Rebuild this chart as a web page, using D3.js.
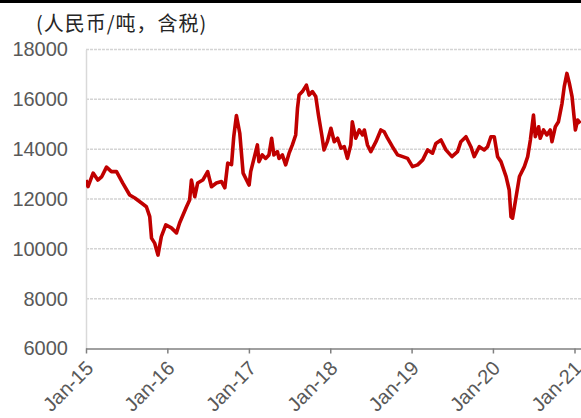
<!DOCTYPE html>
<html>
<head>
<meta charset="utf-8">
<script src="https://cdn.jsdelivr.net/npm/d3@7"></script>
<style>
  html, body { margin: 0; padding: 0; background: #fff; }
  svg { display: block; }
</style>
</head>
<body>
<svg id="chart" width="581" height="418"></svg>
<script>
// Price series (yuan per tonne, tax included)
const dates = [
  "2015-01-01","2015-01-10","2015-02-02","2015-02-23","2015-03-13","2015-04-03","2015-04-25","2015-05-18",
  "2015-06-15","2015-07-16","2015-08-08","2015-09-07","2015-09-29","2015-10-14","2015-10-22","2015-11-05",
  "2015-11-20","2015-12-05","2015-12-25","2016-01-19","2016-02-11","2016-02-25","2016-03-27","2016-04-10",
  "2016-04-18","2016-05-03","2016-05-16","2016-06-08","2016-06-30","2016-07-17","2016-08-08","2016-08-31",
  "2016-09-15","2016-09-28","2016-10-15","2016-10-25","2016-11-06","2016-11-21","2016-12-06","2016-12-28",
  "2017-01-02","2017-01-09","2017-01-24","2017-02-08","2017-02-15","2017-03-02","2017-03-17","2017-04-01",
  "2017-04-13","2017-04-23","2017-05-09","2017-05-16","2017-05-31","2017-06-15","2017-06-30","2017-07-15",
  "2017-07-30","2017-08-07","2017-08-14","2017-08-29","2017-09-16","2017-09-28","2017-10-13","2017-10-28",
  "2017-11-09","2017-11-24","2017-12-04","2017-12-19","2018-01-04","2018-01-19","2018-02-03","2018-02-18",
  "2018-03-05","2018-03-19","2018-04-03","2018-04-10","2018-04-25","2018-05-11","2018-05-26","2018-06-03",
  "2018-06-17","2018-07-02","2018-07-25","2018-08-16","2018-08-31","2018-09-15","2018-10-07","2018-10-30",
  "2018-11-22","2018-12-14","2019-01-05","2019-01-28",
  "2019-02-20","2019-03-14","2019-04-05","2019-04-20","2019-05-13","2019-06-04","2019-07-01","2019-07-26",
  "2019-08-10","2019-09-02","2019-09-24","2019-10-09","2019-11-01","2019-11-23","2019-12-08","2019-12-23",
  "2020-01-07","2020-01-22","2020-02-06","2020-02-29","2020-03-14","2020-03-22","2020-03-29","2020-04-14",
  "2020-04-29","2020-05-21","2020-06-05","2020-06-17","2020-07-01","2020-07-09","2020-07-24","2020-07-31",
  "2020-08-15","2020-08-30","2020-09-14","2020-09-22","2020-10-07","2020-10-21","2020-11-06","2020-11-16",
  "2020-11-28","2020-12-09","2020-12-21","2021-01-05","2021-01-15","2021-01-27"
];
const prices = [
  12760,12500,13040,12760,12900,13280,13100,13100,
  12640,12160,12040,11840,11690,11290,10430,10230,
  9750,10490,10960,10840,10640,11040,11690,11960,
  12760,12090,12640,12760,13100,12490,12640,12700,
  12450,13440,13380,14500,15350,14640,13040,12640,
  12560,13100,13630,14170,13500,13770,13630,13770,
  14440,13770,13900,13630,13770,13370,13830,14170,
  14570,15640,16170,16310,16570,16170,16310,16110,
  15370,14570,13970,14300,14840,14300,14440,14040,
  14100,13630,14170,15100,14440,14770,14570,14770,
  14170,13900,14300,14770,14700,14440,14100,13770,
  13700,13630,13300,13370,
  13570,13970,13840,14230,14370,13970,13700,13900,
  14300,14500,14100,13700,14100,13970,14100,14500,
  14500,13700,13500,12900,12360,11290,11230,12090,
  12900,13300,13700,14370,15370,14500,14900,14440,
  14770,14570,14770,14300,14900,15100,15840,16510,
  17040,16640,16110,14770,15170,15040
];
const yTicks = [6000, 8000, 10000, 12000, 14000, 16000, 18000];
const xTickDates = ["2015-01-01","2016-01-01","2017-01-01","2018-01-01","2019-01-01","2020-01-01","2021-01-01"];
const unitLabel = "(人民币/吨，含税)";

const parse = d3.timeParse("%Y-%m-%d");
const series = dates.map((d, i) => ({ date: parse(d), value: prices[i] }));

const W = 581, H = 418;
const plotLeft = 86, plotRight = 581, plotTop = 49.5, plotBottom = 348.5;

const svg = d3.select("#chart");

const x = d3.scaleTime()
  .domain([parse("2015-01-01"), parse("2021-01-01")])
  .range([plotLeft, 574.5]);
const y = d3.scaleLinear().domain([6000, 18000]).range([plotBottom, plotTop]);

// thin black rule along the top edge
svg.append("rect").attr("x", 0).attr("y", 0).attr("width", W).attr("height", 3).attr("fill", "#000");

// unit label
svg.append("text")
  .attr("x", 36).attr("y", 26)
  .attr("dominant-baseline", "middle")
  .attr("font-family", "'Noto Sans CJK SC', sans-serif")
  .attr("font-size", 20)
  .attr("letter-spacing", 1)
  .attr("fill", "#262626")
  .text(unitLabel);

// horizontal gridlines
svg.append("g").selectAll("line")
  .data(yTicks.filter(v => v !== 6000))
  .join("line")
  .attr("x1", plotLeft).attr("x2", plotRight)
  .attr("y1", d => y(d)).attr("y2", d => y(d))
  .attr("stroke", "#d4d4d4")
  .attr("stroke-width", 1.5)
  .attr("stroke-dasharray", "3,1");

// left axis
const yAxis = svg.append("g")
  .attr("transform", `translate(${plotLeft},0)`)
  .call(d3.axisLeft(y).tickValues(yTicks).tickSize(0).tickPadding(18).tickFormat(d3.format("d")));
yAxis.select(".domain").attr("stroke", "#d9d9d9").attr("stroke-width", 1.5);
yAxis.selectAll("text")
  .attr("font-family", "'Liberation Sans', Arial, sans-serif")
  .attr("font-size", 20)
  .attr("fill", "#595959");

// bottom axis
const xAxis = svg.append("g")
  .attr("transform", `translate(0,${plotBottom})`)
  .call(d3.axisBottom(x).tickValues(xTickDates.map(parse)).tickSize(5).tickSizeOuter(0).tickFormat(d3.timeFormat("%b-%y")));
xAxis.select(".domain").attr("stroke", "#808080").attr("stroke-width", 1.5)
  .attr("d", `M${plotLeft},0.5H${plotRight}`);
xAxis.selectAll(".tick line").attr("stroke", "#808080").attr("stroke-width", 1.5);
xAxis.selectAll("text")
  .attr("font-family", "'Liberation Sans', Arial, sans-serif")
  .attr("font-size", 20)
  .attr("fill", "#595959")
  .attr("text-anchor", "end")
  .attr("dy", null)
  .attr("y", 0)
  .attr("transform", "translate(8,21) rotate(-45)");

// price line
svg.append("defs").append("clipPath").attr("id", "plot-clip")
  .append("rect").attr("x", plotLeft).attr("y", 0).attr("width", plotRight - plotLeft).attr("height", plotBottom);

svg.append("path")
  .datum(series)
  .attr("clip-path", "url(#plot-clip)")
  .attr("fill", "none")
  .attr("stroke", "#C00000")
  .attr("stroke-width", 3.6)
  .attr("stroke-linejoin", "round")
  .attr("d", d3.line().x(d => x(d.date)).y(d => y(d.value)));
</script>
</body>
</html>
